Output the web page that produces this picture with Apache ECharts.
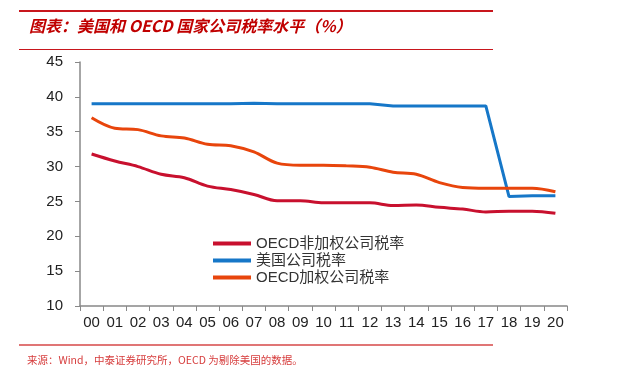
<!DOCTYPE html>
<html><head><meta charset="utf-8">
<script src="https://cdn.jsdelivr.net/npm/echarts@6/dist/echarts.min.js"></script>
<style>html,body{margin:0;padding:0;background:#fff}#c{width:634px;height:388px}</style>
</head><body><div id="c"></div>
<script>
const categories = ['00','01','02','03','04','05','06','07','08','09','10','11','12','13','14','15','16','17','18','19','20'];
const oecdUnweighted = [31.8,30.8,30.0,28.9,28.4,27.2,26.7,26.0,25.1,25.1,24.8,24.8,24.8,24.4,24.5,24.15,23.9,23.5,23.6,23.6,23.3];
const usRate = [39.0,39.0,39.0,39.0,39.0,39.0,39.0,39.1,39.0,39.0,39.0,39.0,39.0,38.7,38.7,38.7,38.7,38.7,25.7,25.8,25.8];
const oecdWeighted = [37.0,35.5,35.3,34.4,34.1,33.2,33.0,32.1,30.5,30.2,30.2,30.1,29.9,29.2,28.9,27.7,27.0,26.9,26.9,26.9,26.4];
const seriesNames = ['OECD非加权公司税率','美国公司税率','OECD加权公司税率'];
const yTicks = {min:10, max:45, interval:5};

const chart = echarts.init(document.getElementById('c'));
chart.setOption({
  animation:false,
  textStyle:{fontFamily:'Liberation Sans, Arial, sans-serif'},
  graphic:[
    {type:'line', shape:{x1:19,y1:11,x2:493,y2:11}, style:{stroke:'#C8161D', lineWidth:2}},
    {type:'text', left:29, top:18, style:{text:'图表：美国和 OECD 国家公司税率水平（%）', fill:'#C00000', font:'italic bold 16px "Noto Sans CJK SC", sans-serif'}},
    {type:'line', shape:{x1:19,y1:49.5,x2:493,y2:49.5}, style:{stroke:'#C8161D', lineWidth:1}},
    {type:'line', shape:{x1:19,y1:345,x2:493,y2:345}, style:{stroke:'#E07575', lineWidth:2}},
    {type:'text', left:27, top:355, style:{text:'来源：Wind，中泰证券研究所，OECD 为剔除美国的数据。', fill:'#D63C3C', font:'10.5px "Noto Sans CJK SC", sans-serif'}}
  ],
  grid:{left:80, right:67, top:62, bottom:82},
  legend:{
    data:seriesNames, orient:'vertical', left:208, top:231,
    icon:'rect', itemWidth:38, itemHeight:4, itemGap:2,
    textStyle:{fontSize:15, color:'#333', fontFamily:'Liberation Sans, "Noto Sans CJK SC", sans-serif'}
  },
  xAxis:{
    type:'category', data:categories, boundaryGap:true,
    axisLine:{lineStyle:{color:'#888', width:1.5}},
    axisTick:{show:true, interval:0, length:5, lineStyle:{color:'#888'}},
    axisLabel:{interval:0, color:'#222', fontSize:15, margin:9}
  },
  yAxis:{
    type:'value', min:yTicks.min, max:yTicks.max, interval:yTicks.interval,
    axisLine:{show:true, lineStyle:{color:'#888', width:1.5}},
    axisTick:{show:true, length:5, lineStyle:{color:'#888'}},
    splitLine:{show:false},
    axisLabel:{color:'#222', fontSize:15, margin:17}
  },
  series:[
    {name:seriesNames[0], type:'line', data:oecdUnweighted, smooth:0.35, symbol:'none', lineStyle:{color:'#C8102E', width:3}, itemStyle:{color:'#C8102E'}},
    {name:seriesNames[1], type:'line', data:usRate, smooth:false, symbol:'none', lineStyle:{color:'#1677C8', width:3}, itemStyle:{color:'#1677C8'}},
    {name:seriesNames[2], type:'line', data:oecdWeighted, smooth:0.35, symbol:'none', lineStyle:{color:'#E8450C', width:3}, itemStyle:{color:'#E8450C'}}
  ]
});
</script></body></html>
